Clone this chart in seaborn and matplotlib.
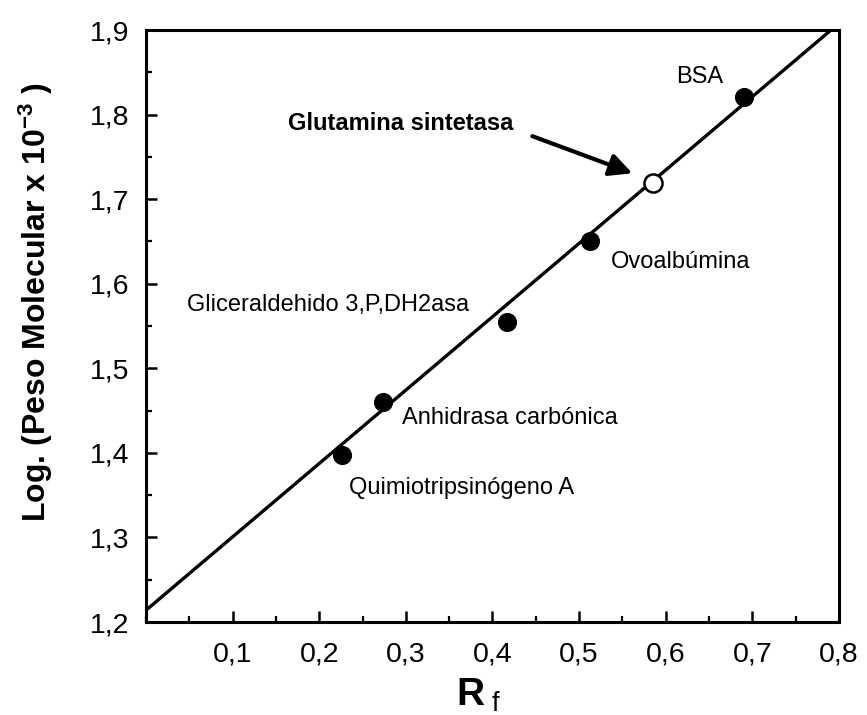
import matplotlib
matplotlib.use("Agg")
import matplotlib.pyplot as plt
import seaborn as sns
import pandas as pd
import numpy as np
from matplotlib.ticker import MultipleLocator, FixedLocator, FixedFormatter

# ---- data ----
proteins = ["Quimiotripsinógeno A", "Anhidrasa carbónica", "Gliceraldehido 3,P,DH2asa",
            "Ovoalbúmina", "BSA"]
rf_std = [0.226, 0.274, 0.417, 0.513, 0.690]
logmw_std = [1.397, 1.460, 1.555, 1.651, 1.821]

unknown_name = "Glutamina sintetasa"
rf_unknown = [0.585]
logmw_unknown = [1.719]

fit_x = [0.0, 0.80]
fit_y = [1.214, 1.908]

xtick_vals = [0.1, 0.2, 0.3, 0.4, 0.5, 0.6, 0.7, 0.8]
xtick_labels = ["0,1", "0,2", "0,3", "0,4", "0,5", "0,6", "0,7", "0,8"]
ytick_vals = [1.2, 1.3, 1.4, 1.5, 1.6, 1.7, 1.8, 1.9]
ytick_labels = ["1,2", "1,3", "1,4", "1,5", "1,6", "1,7", "1,8", "1,9"]

# label placement (data coords, left-aligned, vertically centred)
label_pos = {
    "Quimiotripsinógeno A": (0.234, 1.358),
    "Anhidrasa carbónica": (0.296, 1.441),
    "Gliceraldehido 3,P,DH2asa": (0.047, 1.575),
    "Ovoalbúmina": (0.537, 1.6255),
    "BSA": (0.612, 1.844),
}

# ---- style ----
sns.set_theme(style="ticks")
plt.rcParams["font.family"] = ["Liberation Sans", "DejaVu Sans"]
plt.rcParams["mathtext.fontset"] = "custom"
plt.rcParams["mathtext.rm"] = "Liberation Sans"
plt.rcParams["mathtext.bf"] = "Liberation Sans:bold"
plt.rcParams["mathtext.it"] = "Liberation Sans:italic"
for k in ["text.color", "axes.labelcolor", "xtick.color", "ytick.color",
          "axes.edgecolor"]:
    plt.rcParams[k] = "black"

fig = plt.figure(figsize=(8.67, 7.15), dpi=100)
ax = fig.add_axes([0.1684, 0.130, 0.7993, 0.828])

df_std = pd.DataFrame({"Rf": rf_std, "logMW": logmw_std, "protein": proteins})
df_fit = pd.DataFrame({"Rf": fit_x, "logMW": fit_y})
df_unk = pd.DataFrame({"Rf": rf_unknown, "logMW": logmw_unknown})

sns.lineplot(data=df_fit, x="Rf", y="logMW", ax=ax, color="black", linewidth=2.4,
             zorder=2)
sns.scatterplot(data=df_std, x="Rf", y="logMW", ax=ax, color="black", s=190,
                edgecolor="black", linewidth=0, zorder=3)
sns.scatterplot(data=df_unk, x="Rf", y="logMW", ax=ax, facecolor="white", s=170,
                edgecolor="black", linewidth=1.8, zorder=4)

ax.set_xlim(0.0, 0.8)
ax.set_ylim(1.2, 1.9)

ax.xaxis.set_major_locator(FixedLocator(xtick_vals))
ax.xaxis.set_major_formatter(FixedFormatter(xtick_labels))
ax.xaxis.set_minor_locator(MultipleLocator(0.05))
ax.yaxis.set_major_locator(FixedLocator(ytick_vals))
ax.yaxis.set_major_formatter(FixedFormatter(ytick_labels))
ax.yaxis.set_minor_locator(MultipleLocator(0.05))

ax.tick_params(axis="both", which="major", direction="in", length=8, width=1.8,
               labelsize=20.5, pad=12, color="black", labelcolor="black",
               top=False, right=False)
ax.tick_params(axis="both", which="minor", direction="in", length=4, width=1.6,
               top=False, right=False, color="black")
ax.tick_params(axis="x", which="major", pad=14)

for sp in ax.spines.values():
    sp.set_visible(True)
    sp.set_linewidth(2.2)
    sp.set_color("black")

ax.set_xlabel(r"$\mathbf{R}_{\ \mathrm{f}}$", fontsize=28)
ax.xaxis.set_label_coords(0.48, -0.093)
ax.xaxis.label.set_va("top")
ax.set_ylabel(r"Log. (Peso Molecular x 10$^{\mathbf{-3}}$ )", fontsize=23,
              fontweight="bold")
ax.yaxis.set_label_coords(-0.131, 0.54)

for name in proteins:
    x, y = label_pos[name]
    ax.text(x, y, name, fontsize=17, ha="left", va="center", color="black")

ax.text(0.1637, 1.7898, unknown_name, fontsize=17, fontweight="bold",
        ha="left", va="center", color="black")
ax.annotate("", xy=(0.5614, 1.7307), xytext=(0.446, 1.7745),
            arrowprops=dict(arrowstyle="-|>", color="black", lw=3.0,
                            mutation_scale=34, shrinkA=0, shrinkB=0))

fig.savefig("out.png", dpi=100, facecolor="white")
